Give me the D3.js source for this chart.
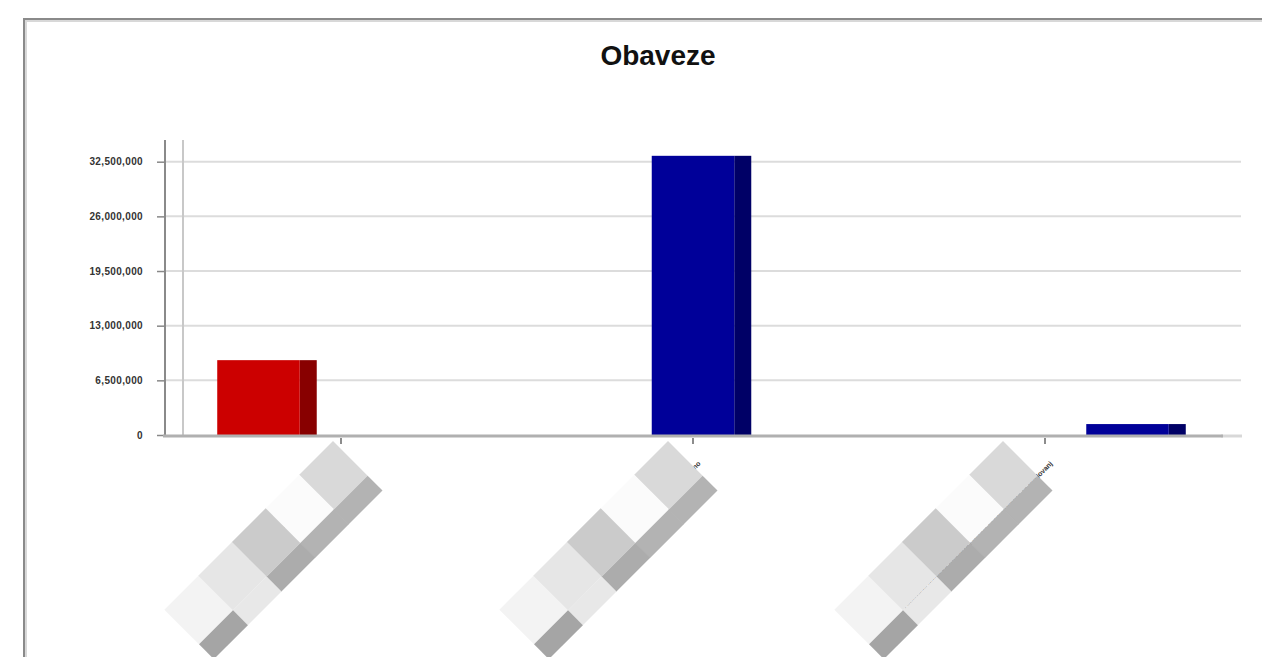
<!DOCTYPE html>
<html><head><meta charset="utf-8">
<script src="https://cdn.jsdelivr.net/npm/d3@7"></script>
<style>body{margin:0;background:#fff;overflow:hidden}svg{display:block}</style>
</head><body>
<svg id="c" width="1262" height="657"></svg>
<script>
const title = "Obaveze";
const categories = ["Dugoročna rezervisanja i dugoročne obaveze - ukupno", "Kratkoročne obaveze - ukupno", "Odložene poreske obaveze i ostala razgraničenja za poslovanj"];
const seriesNames = ["s1", "s2", "s3"];
const seriesValues = {
  s1: [8900000, null, null],
  s2: [null, 33200000, null],
  s3: [null, null, 1300000]
};
const seriesFront = {s1: "#cc0000", s2: "#000099", s3: "#000099"};
const seriesSide = {s1: "#880000", s2: "#000066", s3: "#000066"};
const yTicks = [0, 6500000, 13000000, 19500000, 26000000, 32500000];
const blockTop = ["#d9d9d9", "#fbfbfb", "#cbcbcb", "#e6e6e6", "#f3f3f3"];
const blockSide = ["#b3b3b3", "#b3b3b3", "#acacac", "#e8e8e8", "#a5a5a5"];

const svg = d3.select("#c");
const W = 1262, H = 657;

// frame
svg.append("path").attr("d", `M25,${H} V20 H${W}`).attr("fill", "none").attr("stroke", "#d8d8d8").attr("stroke-width", 4);
svg.append("path").attr("d", `M24,${H} V19 H${W}`).attr("fill", "none").attr("stroke", "#8a8a8a").attr("stroke-width", 2);

svg.append("text").attr("x", 658).attr("y", 65).attr("text-anchor", "middle")
  .attr("font-family", "Liberation Sans, Arial, sans-serif").attr("font-weight", "bold")
  .attr("font-size", 28).attr("fill", "#111").text(title);

const y = d3.scaleLinear().domain([0, 32500000]).range([435, 161.7]);
const x0 = d3.scaleBand().domain(categories).range([165, 1221]).paddingInner(0).paddingOuter(0);
const x1 = d3.scaleBand().domain(seriesNames).range([0, x0.bandwidth()]).paddingInner(0).paddingOuter(0.633);
const depth = 17;

// grid
svg.append("g").selectAll("line").data(yTicks.filter(d => d > 0)).join("line")
  .attr("x1", 165).attr("x2", 1241).attr("y1", d => y(d)).attr("y2", d => y(d))
  .attr("stroke", "#dcdcdc").attr("stroke-width", 2);

// y axis lines
svg.append("line").attr("x1", 183).attr("x2", 183).attr("y1", 140).attr("y2", 436).attr("stroke", "#c8c8c8").attr("stroke-width", 2);
svg.append("line").attr("x1", 165).attr("x2", 165).attr("y1", 140).attr("y2", 437).attr("stroke", "#8a8a8a").attr("stroke-width", 2);

const yAxis = d3.axisLeft(y).tickValues(yTicks).tickSize(8).tickFormat(d3.format(","));
const ga = svg.append("g").attr("transform", "translate(165,0)").call(yAxis);
ga.select(".domain").remove();
ga.selectAll(".tick line").attr("stroke", "#888").attr("stroke-width", 1.5);
ga.selectAll(".tick text").attr("x", -22).attr("font-family", "Liberation Sans, Arial, sans-serif")
  .attr("font-weight", "bold").attr("font-size", 10).attr("letter-spacing", 0.35).attr("fill", "#333");

// bars
const data = [];
categories.forEach((c, i) => seriesNames.forEach(s => {
  const v = seriesValues[s][i];
  if (v != null) data.push({c, s, v});
}));
const bw = x1.bandwidth();
const bars = svg.append("g").selectAll("g").data(data).join("g");
bars.append("rect").attr("x", d => x0(d.c) + x1(d.s) + bw).attr("width", depth)
  .attr("y", d => y(d.v)).attr("height", d => y(0) - y(d.v)).attr("fill", d => seriesSide[d.s]);
bars.append("rect").attr("x", d => x0(d.c) + x1(d.s)).attr("width", bw)
  .attr("y", d => y(d.v)).attr("height", d => y(0) - y(d.v)).attr("fill", d => seriesFront[d.s]);

// baseline
svg.append("line").attr("x1", 1221).attr("x2", 1242).attr("y1", 436).attr("y2", 436).attr("stroke", "#d8d8d8").attr("stroke-width", 3);
svg.append("line").attr("x1", 163).attr("x2", 1223).attr("y1", 436).attr("y2", 436).attr("stroke", "#b0b0b0").attr("stroke-width", 3);

// x ticks
svg.append("g").selectAll("line").data(categories).join("line")
  .attr("x1", d => x0(d) + x0.bandwidth() / 2).attr("x2", d => x0(d) + x0.bandwidth() / 2)
  .attr("y1", 438).attr("y2", 444).attr("stroke", "#666").attr("stroke-width", 1.5);

// x labels
svg.append("g").selectAll("text").data(categories).join("text")
  .attr("transform", d => `translate(${x0(d) + x0.bandwidth() / 2 + 8},${464}) rotate(-45)`)
  .attr("text-anchor", "end").attr("font-family", "Liberation Sans, Arial, sans-serif")
  .attr("font-weight", "bold").attr("font-size", 7).attr("fill", "#333").text(d => d);

// overlay blocks
const bx = d3.scaleLinear().domain([0, 2]).range([333, 1003]);
const cell = 47.6;
const og = svg.append("g").selectAll("g").data(categories).join("g")
  .attr("transform", (d, i) => `translate(${bx(i)},441) rotate(45)`);
og.each(function () {
  const g = d3.select(this);
  g.selectAll("rect.t").data(blockTop).join("rect").attr("class", "t")
    .attr("x", 0).attr("y", (d, i) => i * cell).attr("width", 49).attr("height", cell + 0.5).attr("fill", d => d);
  g.selectAll("rect.s").data(blockSide).join("rect").attr("class", "s")
    .attr("x", 49).attr("y", (d, i) => i * cell).attr("width", 21).attr("height", cell + 0.5).attr("fill", d => d);
});
</script>
</body></html>
